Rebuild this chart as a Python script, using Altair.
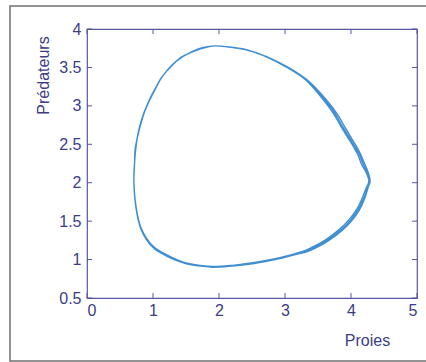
import altair as alt
import pandas as pd

# ---- data (prey, predators), three successive turns ----
loop1_prey = [1.91, 2.20, 2.41, 2.70, 2.93, 3.15, 3.32, 3.50, 3.64, 3.84, 3.99, 4.11, 4.19, 4.25, 4.28,
              4.23, 4.19, 4.12, 4.05, 3.98, 3.88, 3.76, 3.58, 3.33, 3.02, 2.72, 2.41, 2.11, 1.94,
              1.75, 1.59, 1.44, 1.29, 1.14, 1.03, 0.93, 0.83, 0.77, 0.74, 0.72, 0.71, 0.72, 0.74,
              0.77, 0.82, 0.90, 1.02, 1.21, 1.46, 1.71]
loop1_pred = [0.905, 0.92, 0.94, 0.98, 1.02, 1.07, 1.11, 1.18, 1.25, 1.38, 1.51, 1.65, 1.79, 1.93, 2.02,
              2.16, 2.23, 2.38, 2.48, 2.58, 2.72, 2.90, 3.10, 3.33, 3.51, 3.64, 3.73, 3.77, 3.78,
              3.75, 3.70, 3.64, 3.53, 3.38, 3.21, 3.04, 2.82, 2.62, 2.45, 2.25, 2.05, 1.85, 1.70,
              1.55, 1.40, 1.27, 1.15, 1.05, 0.96, 0.92]

loop2_prey = [1.90, 2.20, 2.42, 2.70, 2.94, 3.16, 3.34, 3.52, 3.66, 3.86, 4.01, 4.13, 4.21, 4.26, 4.29,
              4.25, 4.21, 4.14, 4.07, 4.00, 3.91, 3.79, 3.61, 3.36, 3.05, 2.74, 2.43, 2.12, 1.95,
              1.76, 1.60, 1.45, 1.30, 1.15, 1.03, 0.93, 0.83, 0.77, 0.74, 0.72, 0.71, 0.72, 0.74,
              0.77, 0.82, 0.90, 1.02, 1.21, 1.46, 1.71]
loop2_pred = [0.90, 0.915, 0.935, 0.975, 1.015, 1.065, 1.105, 1.175, 1.245, 1.375, 1.505, 1.65, 1.80, 1.94, 2.02,
              2.16, 2.24, 2.38, 2.49, 2.59, 2.72, 2.895, 3.095, 3.32, 3.50, 3.635, 3.725, 3.77, 3.78,
              3.76, 3.71, 3.64, 3.54, 3.39, 3.22, 3.05, 2.83, 2.63, 2.46, 2.26, 2.06, 1.86, 1.71,
              1.56, 1.41, 1.28, 1.16, 1.06, 0.965, 0.925]

loop3_prey = [1.92, 2.20, 2.40, 2.69, 2.92, 3.14, 3.31, 3.48, 3.62, 3.82, 3.97, 4.09, 4.17, 4.23, 4.27,
              4.22, 4.17, 4.10, 4.03, 3.95, 3.85, 3.73, 3.55, 3.31, 3.00, 2.70, 2.40, 2.10, 1.93,
              1.74, 1.58, 1.43, 1.28, 1.13, 1.02, 0.92, 0.83, 0.77, 0.73, 0.72, 0.71, 0.72, 0.74,
              0.77, 0.82, 0.90, 1.02, 1.22, 1.47, 1.72, 1.91]
loop3_pred = [0.91, 0.925, 0.945, 0.985, 1.025, 1.075, 1.12, 1.19, 1.26, 1.39, 1.52, 1.66, 1.80, 1.93, 2.02,
              2.15, 2.22, 2.37, 2.48, 2.59, 2.73, 2.905, 3.11, 3.34, 3.515, 3.645, 3.735, 3.77, 3.78,
              3.75, 3.70, 3.63, 3.52, 3.37, 3.20, 3.03, 2.81, 2.61, 2.44, 2.24, 2.04, 1.84, 1.69,
              1.54, 1.39, 1.26, 1.14, 1.04, 0.955, 0.915, 0.905]

x_ticks = [0, 1, 2, 3, 4, 5]
y_ticks = [0.5, 1, 1.5, 2, 2.5, 3, 3.5, 4]

prey = loop1_prey + loop2_prey + loop3_prey
pred = loop1_pred + loop2_pred + loop3_pred
df = pd.DataFrame({"prey": prey, "pred": pred, "step": list(range(len(prey)))})
dfx = pd.DataFrame({"prey": x_ticks})
dfy = pd.DataFrame({"pred": y_ticks})

TXT = "#3d3d85"
FRAME = "#5656a3"
LINE = "#3f8fd2"
FONT = "Liberation Sans"
W, H = 330, 269
TK = 5

xs = alt.Scale(domain=[0, 5], nice=False, zero=False)
ys = alt.Scale(domain=[0.5, 4], nice=False, zero=False)

x_axis = alt.Axis(
    orient="bottom", values=x_ticks, format="~g", ticks=False, domain=False, grid=False,
    labelFont=FONT, labelFontSize=16, labelColor=TXT, labelPadding=4,
    title="Proies", titleFont=FONT, titleFontSize=16, titleFontWeight="normal",
    titleColor=TXT, titleX=280, titleY=47, titleBaseline="alphabetic", titleAlign="center")
y_axis = alt.Axis(
    orient="left", values=y_ticks, format="~g", ticks=False, domain=False, grid=False,
    labelFont=FONT, labelFontSize=16, labelColor=TXT, labelPadding=6,
    title="Prédateurs", titleFont=FONT, titleFontSize=16, titleFontWeight="normal",
    titleColor=TXT, titleAngle=270, titleX=-39, titleY=46, titleBaseline="alphabetic",
    titleAlign="center")

main = alt.Chart(df).mark_line(color=LINE, strokeWidth=1.4, interpolate="catmull-rom").encode(
    x=alt.X("prey:Q", scale=xs, axis=x_axis, title="Proies"),
    y=alt.Y("pred:Q", scale=ys, axis=y_axis, title="Prédateurs"),
    order="step:Q",
)

xtick_bottom = alt.Chart(dfx).mark_rule(color=FRAME, strokeWidth=1).encode(
    x=alt.X("prey:Q", scale=xs, axis=x_axis, title="Proies"), y=alt.value(H), y2=alt.value(H - TK))
xtick_top = alt.Chart(dfx).mark_rule(color=FRAME, strokeWidth=1).encode(
    x=alt.X("prey:Q", scale=xs, axis=x_axis, title="Proies"), y=alt.value(0), y2=alt.value(TK))
ytick_left = alt.Chart(dfy).mark_rule(color=FRAME, strokeWidth=1).encode(
    y=alt.Y("pred:Q", scale=ys, axis=y_axis, title="Prédateurs"), x=alt.value(0), x2=alt.value(TK))
ytick_right = alt.Chart(dfy).mark_rule(color=FRAME, strokeWidth=1).encode(
    y=alt.Y("pred:Q", scale=ys, axis=y_axis, title="Prédateurs"), x=alt.value(W), x2=alt.value(W - TK))

border = alt.Chart(pd.DataFrame({"b": [0]})).mark_rect(
    fillOpacity=0, stroke="#707070", strokeWidth=1.5
).encode(
    x=alt.value(-77), x2=alt.value(343), y=alt.value(-23), y2=alt.value(332)
)

chart = alt.layer(border, main, xtick_bottom, xtick_top, ytick_left, ytick_right).properties(
    width=W, height=H,
    autosize=alt.AutoSizeParams(type="none"),
    padding={"left": 87, "top": 29, "right": 9, "bottom": 64},
    background="white",
).configure_view(stroke=FRAME, strokeWidth=1.2)

chart.save("out.html", embed_options={"renderer": "svg", "actions": False})
